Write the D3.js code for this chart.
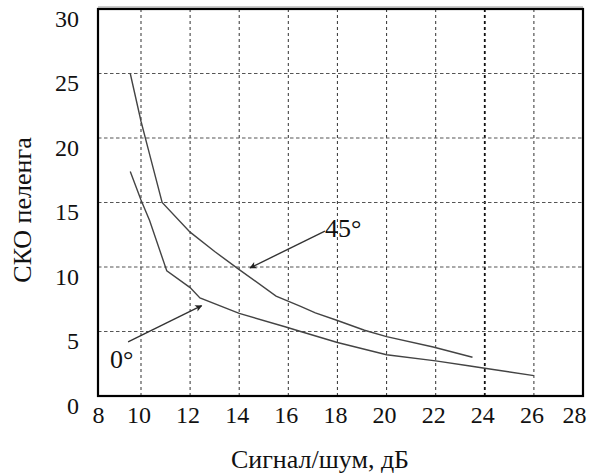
<!DOCTYPE html>
<html>
<head>
<meta charset="utf-8">
<script src="https://cdn.jsdelivr.net/npm/d3@7"></script>
<style>
  html, body { margin: 0; padding: 0; background: #fff; }
  svg { display: block; }
  svg text { font-family: "Liberation Serif", "Times New Roman", "DejaVu Serif", serif !important; fill: #111; }
</style>
</head>
<body>
<svg id="chart" width="589" height="473"></svg>
<script>
// ---- data ----
const xTicks = [8, 10, 12, 14, 16, 18, 20, 22, 24, 26, 28];
const yTicks = [0, 5, 10, 15, 20, 25, 30];
const xGrid = [10, 12, 14, 16, 18, 20, 22, 24, 26];
const yGrid = [5, 10, 15, 20, 25];

const snr45 = [9.5, 10.0, 10.3, 10.86, 12.0, 13.0, 14.0, 15.5, 16.5, 17.1, 18.0, 19.1, 20.0, 21.9, 23.5];
const sko45 = [25.0, 21.3, 19.1, 15.0, 12.7, 11.2, 9.8, 7.75, 6.95, 6.45, 5.85, 5.1, 4.6, 3.8, 3.0];

const snr0 = [9.5, 10.0, 10.35, 11.05, 12.0, 12.4, 14.0, 15.9, 16.5, 18.0, 20.0, 22.0, 23.4, 24.0, 26.0];
const sko0 = [17.4, 15.2, 13.6, 9.7, 8.4, 7.6, 6.4, 5.35, 5.0, 4.15, 3.2, 2.72, 2.33, 2.15, 1.58];

const annotations = [
  { label: "45°", tx: 17.49, ty: 12.36, x1: 17.49, y1: 12.78, x2: 14.44, y2: 9.93 },
  { label: "0°",  tx: 8.56,  ty: 2.18,  x1: 9.40,  y1: 4.2,   x2: 12.47, y2: 7.0 }
];

const xTitle = "Сигнал/шум, дБ";
const yTitle = "СКО пеленга";

// ---- scales ----
const svg = d3.select("#chart");
const x = d3.scaleLinear().domain([8, 10, 28]).range([98, 141, 583]);
const y = d3.scaleLinear().domain([0, 30]).range([396, 9]);
const serif = '"Liberation Serif", "Times New Roman", serif';

// defs: arrowhead
svg.append("defs").append("marker")
  .attr("id", "arrow")
  .attr("viewBox", "0 0 10 10")
  .attr("refX", 9).attr("refY", 5)
  .attr("markerWidth", 11).attr("markerHeight", 7)
  .attr("markerUnits", "userSpaceOnUse")
  .attr("orient", "auto")
  .append("path").attr("d", "M0,0 L10,5 L0,10 L2.5,5 Z").attr("fill", "#222");

// grid
const grid = svg.append("g");
grid.selectAll("line.vx").data(xGrid).enter().append("line")
  .attr("x1", d => x(d)).attr("x2", d => x(d))
  .attr("y1", y(0)).attr("y2", y(30))
  .attr("stroke", d => d === 24 ? "#111" : "#444")
  .attr("stroke-width", d => d === 24 ? 1.8 : 1.1)
  .attr("stroke-dasharray", "3,3");
grid.selectAll("line.hy").data(yGrid).enter().append("line")
  .attr("x1", x(8)).attr("x2", x(28))
  .attr("y1", d => y(d)).attr("y2", d => y(d))
  .attr("stroke", "#555")
  .attr("stroke-width", 1.1)
  .attr("stroke-dasharray", "3.5,2.5");

// curves
const line = d3.line().x(d => x(d[0])).y(d => y(d[1]));
[[snr45, sko45], [snr0, sko0]].forEach(([xs, ys]) => {
  svg.append("path")
    .datum(xs.map((v, i) => [v, ys[i]]))
    .attr("d", line)
    .attr("fill", "none")
    .attr("stroke", "#444")
    .attr("stroke-width", 1.4);
});

// annotations
annotations.forEach(a => {
  svg.append("line")
    .attr("x1", x(a.x1)).attr("y1", y(a.y1))
    .attr("x2", x(a.x2)).attr("y2", y(a.y2))
    .attr("stroke", "#333").attr("stroke-width", 1.4)
    .attr("marker-end", "url(#arrow)");
  svg.append("text")
    .attr("x", x(a.tx)).attr("y", y(a.ty))
    .style("font-family", serif)
    .attr("font-size", 26)
    .text(a.label);
});

// frame
svg.append("line").attr("x1", x(8)).attr("x2", x(28)).attr("y1", y(30) - 2).attr("y2", y(30) - 2)
  .attr("stroke", "#999").attr("stroke-width", 1);
svg.append("rect")
  .attr("x", x(8)).attr("y", y(30))
  .attr("width", x(28) - x(8)).attr("height", y(0) - y(30))
  .attr("fill", "none").attr("stroke", "#000").attr("stroke-width", 2.2);

// axes
const xAxis = svg.append("g")
  .attr("transform", `translate(0,${y(0)})`)
  .attr("font-family", null)
  .call(d3.axisBottom(x).tickValues(xTicks).tickSize(0).tickPadding(10).tickFormat(d3.format("d")));
xAxis.attr("font-family", serif).attr("font-size", 24);
xAxis.select(".domain").remove();
xAxis.selectAll("text")
  .style("font-family", serif).style("font-size", "24px").attr("fill", "#111")
  .attr("dx", d => d === 28 ? -9 : (d === 8 ? 0 : -2.5));

const yAxis = svg.append("g")
  .attr("transform", `translate(${x(8)},0)`)
  .call(d3.axisLeft(y).tickValues(yTicks).tickSize(0).tickPadding(19).tickFormat(d3.format("d")));
yAxis.attr("font-family", serif).attr("font-size", 24);
yAxis.select(".domain").remove();
yAxis.selectAll("text")
  .style("font-family", serif).style("font-size", "24px").attr("dy", "0.72em").attr("fill", "#111");

// titles
svg.append("text")
  .attr("x", 320).attr("y", 468)
  .attr("text-anchor", "middle")
  .style("font-family", serif).style("font-size", "26px")
  .text(xTitle);
svg.append("text")
  .attr("transform", "translate(31,210) rotate(-90)")
  .attr("text-anchor", "middle")
  .style("font-family", serif).style("font-size", "26px")
  .text(yTitle);
</script>
</body>
</html>
